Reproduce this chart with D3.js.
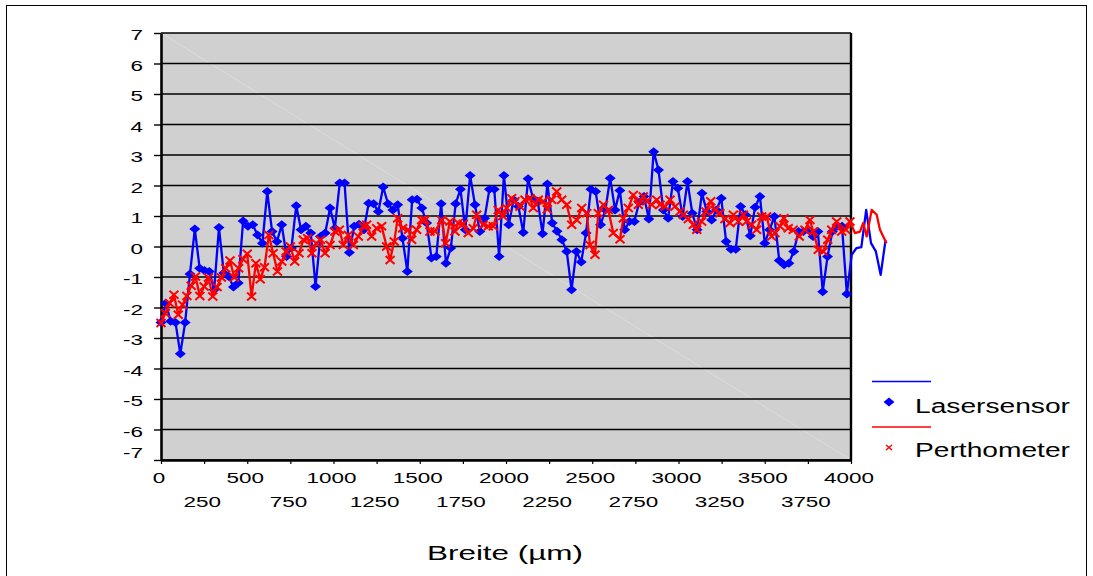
<!DOCTYPE html>
<html>
<head>
<meta charset="utf-8">
<script src="https://cdn.jsdelivr.net/npm/d3@7"></script>
<style>
  body { margin: 0; background: #fff; }
  svg { display: block; }
  text { font-family: "Liberation Sans", Arial, sans-serif; fill: #000; }
</style>
</head>
<body>
<svg id="chart" width="1093" height="576"></svg>
<script>
// Lasersensor profile, sampled every 28 µm from 0 to 4200 µm
const laserStepUm = 28;
const laserValues = [
  -2.49, -1.86, -2.45, -2.49, -3.52, -2.49, -0.90, 0.57, -0.71, -0.79,
  -0.82, -1.42, 0.62, -0.87, -0.98, -1.33, -1.20, 0.84, 0.66, 0.71,
  0.38, 0.11, 1.80, 0.49, 0.16, 0.71, -0.33, -0.05, 1.34, 0.55,
  0.66, 0.44, -1.31, 0.33,
  0.44, 1.26, 0.60, 2.08, 2.08, -0.20, 0.66, 0.73, 0.55, 1.42,
  1.40, 1.15, 1.95, 1.40, 1.20, 1.37, 0.27, -0.82, 1.53, 1.55,
  1.26, 0.77, -0.38, -0.33, 1.40, -0.55, -0.05, 1.40, 1.88, 0.55,
  2.33, 1.37, 0.49,
  0.93, 1.88, 1.88, -0.33, 2.33, 0.71, 1.53, 1.31, 0.46, 2.22,
  1.58, 1.48, 0.42, 2.05, 0.77, 0.50, 0.22, -0.16, -1.42, -0.16,
  -0.51, 0.44, 1.88, 1.80, 0.71, 1.20, 2.24, 1.20, 1.84, 0.55,
  0.82, 0.82, 1.45,
  1.64, 0.90, 3.11, 2.51, 1.20, 0.93, 2.13, 1.91, 0.98, 2.13,
  1.09, 0.55, 1.75, 1.15, 0.87, 1.20, 1.58, 0.16, -0.09, -0.09,
  1.31, 1.04, 0.35, 1.29, 1.64, 0.11, 0.55, 0.98, -0.46, -0.60,
  -0.55, -0.16, 0.49,
  0.49, 0.55, 0.33, 0.49, -1.48, -0.33, 0.49, 0.66, 0.66, -1.56,
  -0.27, -0.05, -0.02, 1.20, 0.11, -0.16, -0.93, 0.20
];

// Perthometer profile: positions (µm) and heights
const perthoX = [
  0, 25, 50, 75, 100, 125, 150, 175, 200, 225, 250, 275, 300, 325, 350, 375, 400, 425, 450, 475,
  500, 525, 550, 575, 600, 625, 650, 675, 700, 725, 750, 775, 800, 825, 850, 875, 900, 925,
  951, 980, 1008, 1034, 1057, 1086, 1115, 1144, 1173, 1192, 1221, 1250, 1279, 1308, 1328, 1352,
  1372, 1401, 1434, 1453, 1482, 1511, 1530, 1559, 1588, 1627, 1650, 1675, 1704, 1723, 1752, 1781,
  1810, 1830,
  1868, 1897, 1926, 1955, 1981, 2004, 2033, 2052, 2081, 2110, 2139, 2158, 2187, 2216, 2239, 2265,
  2294, 2323, 2352, 2381, 2410, 2439, 2468, 2487, 2516, 2535, 2565, 2593, 2622, 2661, 2680, 2709,
  2738, 2767,
  2796, 2816, 2845, 2874, 2893, 2922, 2951, 2980, 3009, 3028, 3057, 3086, 3106, 3134, 3159, 3187,
  3211, 3240, 3269, 3298, 3318, 3347, 3376, 3395, 3424, 3453, 3482, 3511, 3540, 3559, 3588, 3611,
  3636, 3665, 3700,
  3733, 3762, 3781, 3810, 3839, 3865, 3888, 3917, 3946, 3970, 3994,
  4023, 4052, 4071, 4091, 4120, 4149, 4168, 4187, 4206
];
const perthoValues = [
  -2.51, -2.19, -1.86, -1.58, -2.24, -1.91, -1.62, -1.29, -0.98, -1.62, -1.31, -1.02, -1.64, -1.33,
  -1.02, -0.71, -0.46, -1.02, -0.71, -0.42, -0.24, -1.64, -0.55, -1.07, -0.68, 0.38, -0.22, -0.82,
  -0.49, -0.16, 0.00, -0.49, -0.22, 0.22, 0.27, -0.22, 0.11, 0.22,
  -0.22, 0.05, 0.49, 0.55, 0.05, 0.38, 0.05, 0.33, 0.66, 0.71, 0.33, 0.60, 0.66, 0.00, -0.44, 0.16,
  0.93, 0.60, 0.55, 0.22, 0.55, 0.87, 0.87, 0.49, 0.49, 0.87, 0.11, 0.82, 0.49, 0.77, 0.74, 0.44,
  0.60, 1.04,
  0.71, 0.66, 0.66, 1.20, 1.00, 1.26, 1.58, 1.48, 1.31, 1.53, 1.58, 1.26, 1.53, 1.48, 1.22, 1.53,
  1.80, 1.53, 1.37, 0.71, 0.87, 1.26, 1.09, 0.05, -0.27, 1.09, 1.37, 1.20, 0.44, 0.24, 0.93, 1.26,
  1.69, 1.37,
  1.64, 1.48, 1.37, 1.53, 1.37, 1.31, 1.53, 1.31, 1.15, 1.04, 0.90, 0.71, 0.55, 0.82, 1.15, 1.48,
  1.20, 1.09, 0.90, 0.77, 1.04, 0.82, 1.04, 0.82, 0.71, 0.55, 0.98, 0.98, 0.33, 0.44, 0.66, 0.93,
  0.60, 0.55, 0.33,
  0.55, 0.87, 0.49, -0.11, -0.16, 0.22, 0.55, 0.82, 0.49, 0.55, 0.82,
  0.44, 0.49, 0.77, 0.33, 1.20, 1.04, 0.55, 0.33, 0.11
];

// Axis ticks and labels
const yTicks = [7, 6, 5, 4, 3, 2, 1, 0, -1, -2, -3, -4, -5, -6, -7];
const xLabelsUpper = [0, 500, 1000, 1500, 2000, 2500, 3000, 3500, 4000];
const xLabelsLower = [250, 750, 1250, 1750, 2250, 2750, 3250, 3750];
const seriesNames = ["Lasersensor", "Perthometer"];
const xTitle = "Breite (µm)";

const plot = { left: 161, right: 851, top: 33, bottom: 460 };
const xMax = 4000;

const x = d3.scaleLinear().domain([0, xMax]).range([plot.left, plot.right]);
const y = d3.scaleLinear().domain([-7, 7]).range([plot.bottom, plot.top]);

const svg = d3.select("#chart");

// stretched label, the way the sheet renders its fonts
function label(g, str, px, py, anchor, size, sx) {
  return g.append("text")
    .attr("transform", `translate(${px},${py}) scale(${sx},1)`)
    .attr("text-anchor", anchor)
    .attr("font-size", size)
    .text(str);
}

// outer chart frame
svg.append("rect")
  .attr("x", 6.5).attr("y", 5.5).attr("width", 1080).attr("height", 590)
  .attr("fill", "#fff").attr("stroke", "#000").attr("stroke-width", 1);

// plot area
svg.append("rect")
  .attr("x", plot.left).attr("y", plot.top)
  .attr("width", plot.right - plot.left).attr("height", plot.bottom - plot.top)
  .attr("fill", "#d0d0d0");

// faint diagonal across the plot area
svg.append("line")
  .attr("x1", x(0)).attr("y1", y(7)).attr("x2", x(xMax)).attr("y2", y(-7))
  .attr("stroke", "#dcdcdc").attr("stroke-width", 1);

// horizontal gridlines
svg.append("g").selectAll("line").data(yTicks).join("line")
  .attr("x1", plot.left).attr("x2", plot.right)
  .attr("y1", d => y(d)).attr("y2", d => y(d))
  .attr("stroke", "#000").attr("stroke-width", 1.4);

// right border of the plot area
svg.append("line")
  .attr("x1", plot.right).attr("x2", plot.right)
  .attr("y1", plot.top).attr("y2", plot.bottom)
  .attr("stroke", "#000").attr("stroke-width", 2.4);

// y axis
const yAxis = svg.append("g")
  .attr("transform", `translate(${plot.left},0)`)
  .call(d3.axisLeft(y).tickValues(yTicks).tickSize(7).tickSizeOuter(0).tickFormat(""));
yAxis.select(".domain").attr("stroke", "#000").attr("stroke-width", 2.6);
yAxis.selectAll(".tick line").attr("stroke", "#000").attr("stroke-width", 1.4);

// x axis
const xMinor = xLabelsUpper.concat(xLabelsLower).sort((a, b) => a - b);
const xAxis = svg.append("g")
  .attr("transform", `translate(0,${plot.bottom})`)
  .call(d3.axisBottom(x).tickValues(xMinor).tickSize(4).tickSizeOuter(0).tickFormat(""));
xAxis.select(".domain").attr("stroke", "#000").attr("stroke-width", 2.6);
xAxis.selectAll(".tick line").attr("stroke", "#000").attr("stroke-width", 1.2);

// tick labels
const labels = svg.append("g");
yTicks.forEach(v => {
  const py = v === -7 ? y(v) - 2 : y(v) + 7;
  label(labels, String(v), 143, py, "end", 14.5, 1.55);
});
xLabelsUpper.forEach(v => label(labels, String(v), x(v) - 2, 483, "middle", 14.5, 1.55));
xLabelsLower.forEach(v => label(labels, String(v), x(v) - 2, 507, "middle", 14.5, 1.55));

// axis title
svg.append("text")
  .attr("x", 427).attr("y", 560)
  .attr("font-size", 20)
  .attr("textLength", 156).attr("lengthAdjust", "spacingAndGlyphs")
  .text(xTitle);

// series data
const laser = laserValues.map((v, i) => ({ x: i * laserStepUm, v }));
const pertho = perthoValues.map((v, i) => ({ x: perthoX[i], v }));

const line = d3.line().x(d => x(d.x)).y(d => y(d.v));
const diamond = "M0,-4.5L5.5,0L0,4.5L-5.5,0Z";
const cross = "M-4.5,-4L4.5,4M-4.5,4L4.5,-4";

// Lasersensor
svg.append("path").datum(laser)
  .attr("d", line).attr("fill", "none")
  .attr("stroke", "#0000ff").attr("stroke-width", 2.3).attr("stroke-linejoin", "round");
svg.append("g").selectAll("path").data(laser.filter(d => d.x <= xMax)).join("path")
  .attr("transform", d => `translate(${x(d.x)},${y(d.v)})`)
  .attr("d", diamond).attr("fill", "#0000ff");

// Perthometer
svg.append("path").datum(pertho)
  .attr("d", line).attr("fill", "none")
  .attr("stroke", "#ff0000").attr("stroke-width", 2.3).attr("stroke-linejoin", "round");
svg.append("g").selectAll("path").data(pertho.filter(d => d.x <= xMax)).join("path")
  .attr("transform", d => `translate(${x(d.x)},${y(d.v)})`)
  .attr("d", cross).attr("fill", "none")
  .attr("stroke", "#ff0000").attr("stroke-width", 2);

// legend
const legend = svg.append("g");
legend.append("line").attr("x1", 872).attr("x2", 931).attr("y1", 381.5).attr("y2", 381.5)
  .attr("stroke", "#0000ff").attr("stroke-width", 1.5);
legend.append("path").attr("transform", "translate(889,402)").attr("d", diamond).attr("fill", "#0000ff");
legend.append("text").attr("x", 915).attr("y", 413).attr("font-size", 20)
  .attr("textLength", 155).attr("lengthAdjust", "spacingAndGlyphs").text(seriesNames[0]);

legend.append("line").attr("x1", 872).attr("x2", 931).attr("y1", 427).attr("y2", 427)
  .attr("stroke", "#ff0000").attr("stroke-width", 1.5);
legend.append("path").attr("transform", "translate(889,447.5)")
  .attr("d", "M-3,-2.5L3,2.5M-3,2.5L3,-2.5").attr("fill", "none")
  .attr("stroke", "#ff0000").attr("stroke-width", 1.5);
legend.append("text").attr("x", 915).attr("y", 457).attr("font-size", 20)
  .attr("textLength", 155).attr("lengthAdjust", "spacingAndGlyphs").text(seriesNames[1]);
</script>
</body>
</html>
